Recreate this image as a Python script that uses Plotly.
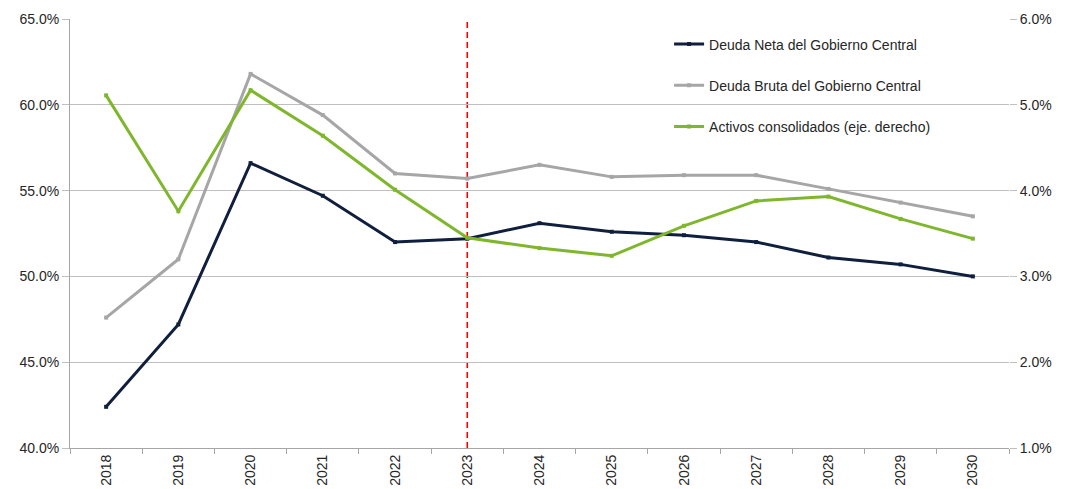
import plotly.graph_objects as go

years = ["2018", "2019", "2020", "2021", "2022", "2023", "2024",
         "2025", "2026", "2027", "2028", "2029", "2030"]
deuda_neta = [42.4, 47.2, 56.6, 54.7, 52.0, 52.2, 53.1, 52.6, 52.4, 52.0, 51.1, 50.7, 50.0]
deuda_bruta = [47.6, 51.0, 61.8, 59.4, 56.0, 55.7, 56.5, 55.8, 55.9, 55.9, 55.1, 54.3, 53.5]
activos = [5.11, 3.76, 5.17, 4.64, 4.01, 3.45, 3.33, 3.24, 3.59, 3.88, 3.93, 3.67, 3.44]
projection_start = "2023"

names = ["Deuda Neta del Gobierno Central",
         "Deuda Bruta del Gobierno Central",
         "Activos consolidados (eje. derecho)"]
colors = ["#0F1F3D", "#A6A6A6", "#7FB72C"]

FONT = "Liberation Sans, Arial, sans-serif"
TXT = "#262626"
FS = 14

fig = go.Figure()
for vals, nm, col, ax, grp in [(deuda_neta, names[0], colors[0], "y", "a"),
                               (deuda_bruta, names[1], colors[1], "y", "b"),
                               (activos, names[2], colors[2], "y2", "c")]:
    fig.add_trace(go.Scatter(x=years, y=vals, name=nm, mode="lines+markers",
                             line=dict(color=col, width=3),
                             marker=dict(symbol="square", size=4, color=col),
                             yaxis=ax, legendgroup=grp))

xi = years.index(projection_start)
fig.add_shape(type="line", xref="x", yref="paper", x0=xi, x1=xi, y0=0, y1=1,
              line=dict(color="#FF0000", width=1.6, dash="6px,4px"), layer="below")

fig.update_layout(
    width=1081, height=489,
    margin=dict(l=70, r=72, t=19, b=41),
    paper_bgcolor="white", plot_bgcolor="white",
    font=dict(family=FONT, size=FS, color=TXT),
    showlegend=True,
    legend=dict(x=0.638, y=0.978, xanchor="left", yanchor="top",
                bgcolor="rgba(0,0,0,0)", traceorder="grouped", tracegroupgap=20,
                font=dict(family=FONT, size=FS, color=TXT)),
    xaxis=dict(type="category", range=[-0.5, 12.5], showgrid=False, automargin=False,
               showline=True, linecolor="#A6A6A6", linewidth=1,
               ticks="outside", tickson="boundaries", ticklen=5, tickcolor="#A6A6A6",
               tickangle=-90, tickfont=dict(family=FONT, size=FS, color=TXT)),
    yaxis=dict(range=[40, 65], dtick=5, tickformat=".1f", ticksuffix="%", automargin=False,
               showgrid=True, gridcolor="#BFBFBF", gridwidth=1, zeroline=False,
               showline=True, linecolor="#A6A6A6", linewidth=1,
               ticks="outside", ticklen=7, tickcolor="#BFBFBF",
               tickfont=dict(family=FONT, size=FS, color=TXT)),
    yaxis2=dict(range=[1, 6], dtick=1, tickformat=".1f", ticksuffix="%", automargin=False,
                overlaying="y", side="right", showgrid=False, zeroline=False,
                showline=False, ticks="outside", ticklen=7, tickcolor="#BFBFBF",
                tickfont=dict(family=FONT, size=FS, color=TXT)),
)

fig.write_html("out.html")
